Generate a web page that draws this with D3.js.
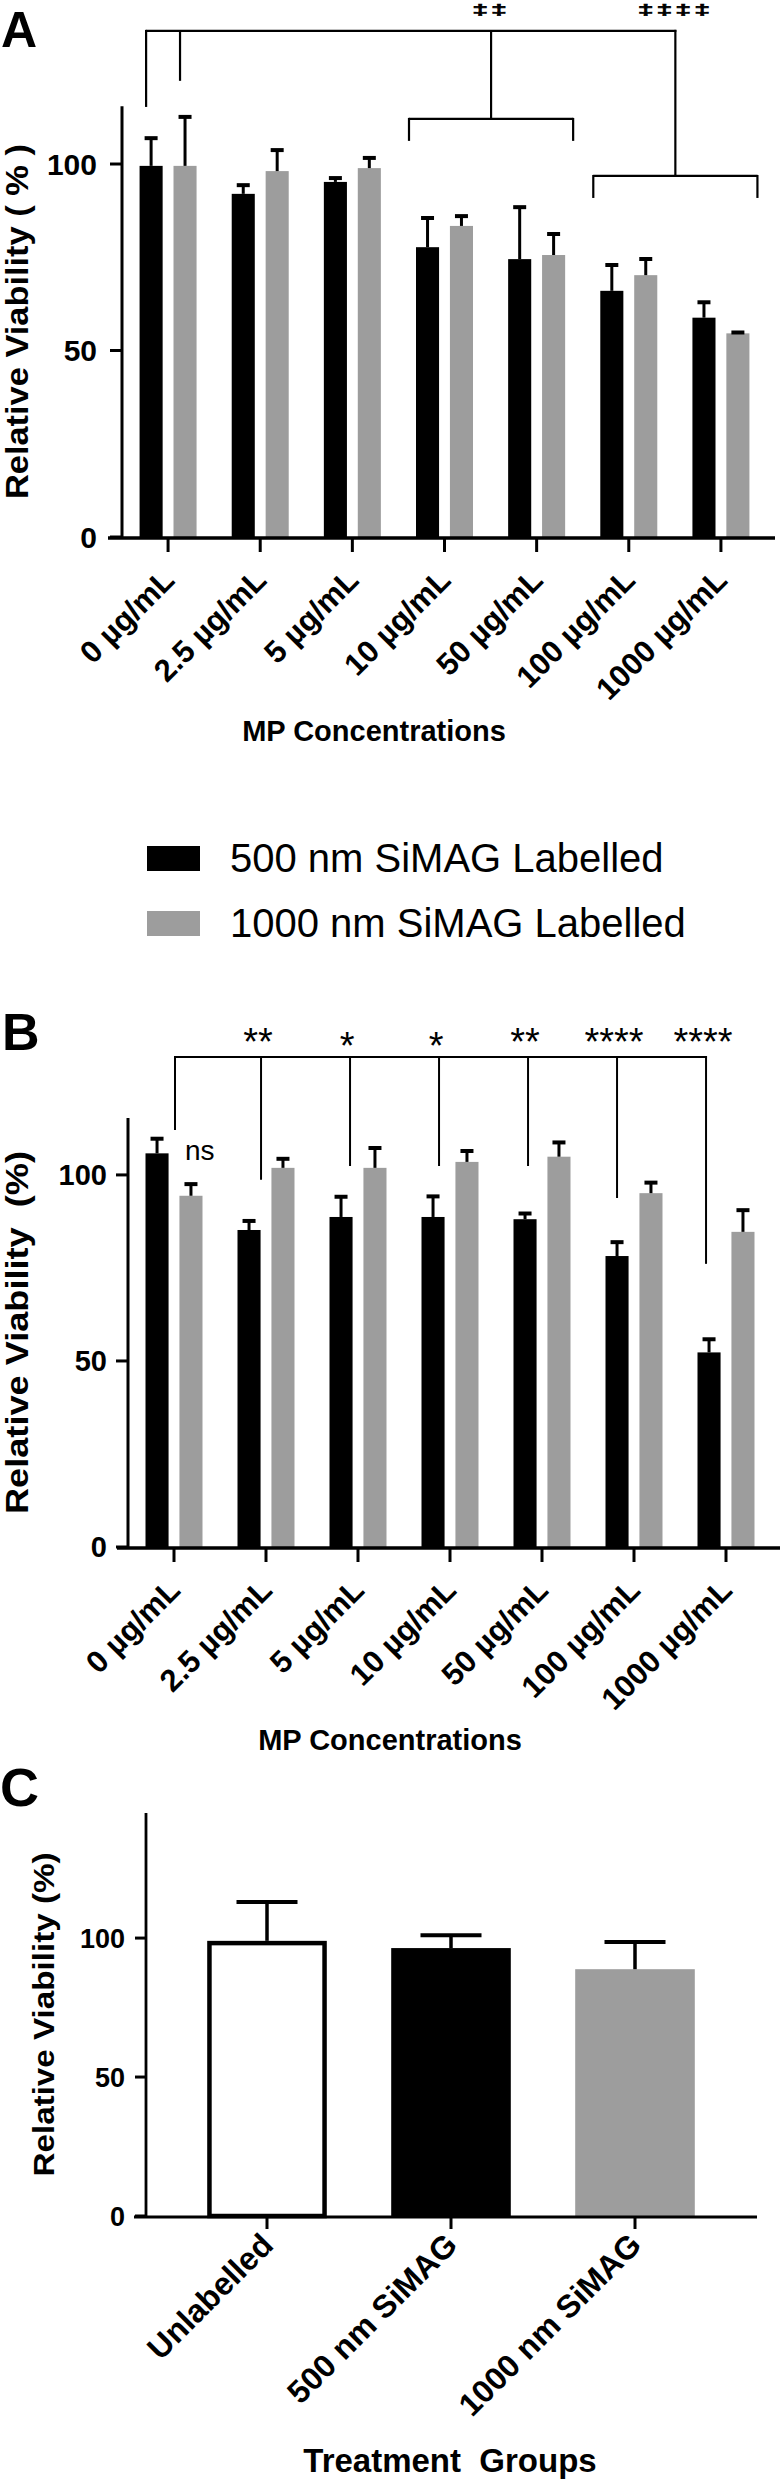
<!DOCTYPE html>
<html><head><meta charset="utf-8">
<script src="https://cdn.jsdelivr.net/npm/d3@7"></script>
<style>body{margin:0;background:#fff}svg{display:block}text{white-space:pre}</style>
</head><body>
<svg id="chart" width="782" height="2481"></svg>
<script>
// ---------- data ----------
const concentrations = ["0 µg/mL","2.5 µg/mL","5 µg/mL","10 µg/mL","50 µg/mL","100 µg/mL","1000 µg/mL"];
const seriesNames = ["500 nm SiMAG Labelled","1000 nm SiMAG Labelled"];
const seriesColors = ["#000000","#9d9d9d"];
const yTicks = [0, 50, 100];

const panelA500      = [99.5, 92.0, 95.2, 77.7, 74.5, 66.0, 58.8];
const panelA500Err   = [7.7, 2.6, 1.3, 8.1, 14.2, 7.2, 4.4];
const panelA1000     = [99.5, 98.1, 98.9, 83.4, 75.6, 70.2, 54.6];
const panelA1000Err  = [13.4, 5.9, 3.0, 2.9, 5.9, 4.6, 0.5];

const panelB500      = [105.8, 85.2, 88.7, 88.7, 88.1, 78.2, 52.3];
const panelB500Err   = [4.2, 2.7, 5.7, 5.8, 1.8, 4.0, 3.8];
const panelB1000     = [94.4, 101.9, 101.9, 103.5, 104.9, 95.1, 84.7];
const panelB1000Err  = [3.4, 2.7, 5.6, 3.2, 4.1, 3.1, 6.1];

const treatmentGroups = ["Unlabelled","500 nm SiMAG","1000 nm SiMAG"];
const panelC     = [99, 96.4, 88.8];
const panelCErr  = [14, 4.6, 9.8];
const panelCFill = ["#ffffff","#000000","#9d9d9d"];

// significance annotations
const starsA = ["‡‡","‡‡‡‡"];
const starsB = ["**","*","*","**","****","****"];
const bracketBEnds = [112.1, 98.7, 102.4, 102.4, 102.4, 93.8, 76.1];

// ---------- helpers ----------
const svg = d3.select("#chart");
const FONT = "'Liberation Sans', Arial, sans-serif";
const NARROW = "'Liberation Sans Narrow', 'Liberation Sans', Arial, sans-serif";

function line(g, x1, y1, x2, y2, w) {
  g.append("line").attr("x1", x1).attr("y1", y1).attr("x2", x2).attr("y2", y2)
    .attr("stroke", "#000").attr("stroke-width", w).attr("stroke-linecap", "butt");
}

function yAxis(g, y, xPos, tickLen, lblEnd, fontFam, fontSize, w) {
  line(g, xPos, y.range()[1], xPos, y.range()[0] + 1, w);
  yTicks.forEach(t => {
    line(g, xPos - tickLen, y(t), xPos, y(t), 3);
    g.append("text").attr("x", lblEnd).attr("y", y(t)).attr("dy", "0.36em")
      .attr("text-anchor", "end").attr("font-family", fontFam).attr("font-weight", "bold")
      .attr("font-size", fontSize).text(t);
  });
}

function yLabel(g, txt, x, cy, size, len) {
  g.append("text").attr("transform", `translate(${x},${cy}) rotate(-90)`)
    .attr("text-anchor", "middle").attr("font-family", FONT).attr("font-weight", "bold")
    .attr("font-size", size).attr("textLength", len).attr("lengthAdjust", "spacingAndGlyphs")
    .text(txt);
}

function groupedPanel(cfg) {
  const g = svg.append("g");
  const x = d3.scaleBand().domain(concentrations).range(cfg.xRange).padding(0);
  const xs = d3.scaleBand().domain(seriesNames).range([-28.5, 28.5]).paddingInner(0.32);
  const y = d3.scaleLinear().domain([0, cfg.yMax]).range([cfg.y0, cfg.yTop]);
  const series = [cfg.s1, cfg.s2], errs = [cfg.e1, cfg.e2];
  series.forEach((vals, si) => {
    const name = seriesNames[si];
    g.selectAll(null).data(vals).enter().append("rect")
      .attr("x", (d, i) => x(concentrations[i]) + x.bandwidth() / 2 + xs(name))
      .attr("width", xs.bandwidth())
      .attr("y", d => y(d)).attr("height", d => y(0) - y(d))
      .attr("fill", seriesColors[si]);
    vals.forEach((v, i) => {
      const cx = x(concentrations[i]) + x.bandwidth() / 2 + xs(name) + xs.bandwidth() / 2;
      const top = y(v + errs[si][i]);
      line(g, cx, y(v), cx, top, 3);
      line(g, cx - 6.5, top + 1, cx + 6.5, top + 1, 4);
    });
  });
  // axes
  yAxis(g, y, cfg.xRange[0], 12, cfg.yLblEnd, cfg.yFont, cfg.yFontSize, 3);
  line(g, cfg.xLine[0], cfg.y0 + 1, cfg.xLine[1], cfg.y0 + 1, 3.5);
  concentrations.forEach(c => {
    const cx = x(c) + x.bandwidth() / 2;
    line(g, cx, cfg.y0 + 2, cx, cfg.y0 + 15, 3);
    g.append("text").attr("transform", `translate(${cx + 8},${cfg.y0 + 45}) rotate(-45)`)
      .attr("text-anchor", "end").attr("font-family", FONT).attr("font-weight", "bold")
      .attr("font-size", 31).text(c);
  });
  return {g, x, xs, y};
}

// ---------- Panel A ----------
const A = groupedPanel({xRange: [122, 767], y0: 537, yTop: 106.2, yMax: 115.5,
  s1: panelA500, s2: panelA1000, e1: panelA500Err, e2: panelA1000Err,
  yLblEnd: 97, yFont: NARROW, yFontSize: 30, xLine: [108, 775]});
{
  const {g, x, xs, y} = A;
  const bc = (i, s) => x(concentrations[i]) + x.bandwidth() / 2 + xs(seriesNames[s]) + xs.bandwidth() / 2;
  const left = i => x(concentrations[i]) + x.bandwidth() / 2 + xs(seriesNames[0]) - 7;
  const right = i => x(concentrations[i]) + x.bandwidth() / 2 + xs(seriesNames[1]) + xs.bandwidth() + 8;
  const topY = y(135.7);
  const d1 = bc(0, 0) - 5, d2 = bc(0, 1) - 5;
  const b1 = [left(3), right(4)], b2 = [left(5), right(6)];
  const m1 = (b1[0] + b1[1]) / 2, m2 = (b2[0] + b2[1]) / 2;
  line(g, d1, topY, m2 + 1, topY, 2.2);
  line(g, d1, topY - 1, d1, y(115.3), 2.2);
  line(g, d2, topY, d2, y(122.3), 2.2);
  line(g, m1, topY, m1, y(112.1), 2.2);
  line(g, b1[0], y(112.1), b1[1], y(112.1), 2.2);
  line(g, b1[0], y(112.1) - 1, b1[0], y(106.2), 2.2);
  line(g, b1[1], y(112.1) - 1, b1[1], y(106.2), 2.2);
  line(g, m2, topY - 1, m2, y(96.8), 2.2);
  line(g, b2[0], y(96.8), b2[1], y(96.8), 2.2);
  line(g, b2[0], y(96.8) - 1, b2[0], y(90.9), 2.2);
  line(g, b2[1], y(96.8) - 1, b2[1], y(90.9), 2.2);
  [m1, m2].forEach((m, k) => {
    g.append("text").attr("transform", `translate(${m},15) scale(1.5,0.8)`)
      .attr("text-anchor", "middle").attr("font-family", FONT).attr("font-weight", "bold")
      .attr("font-size", 19).attr("letter-spacing", 2)
      .attr("stroke", "#000").attr("stroke-width", 0.7).text(starsA[k]);
  });
  yLabel(g, "Relative Viability ( % )", 28, (y(0) + y.range()[1]) / 2, 31, 355);
  g.append("text").attr("x", 374).attr("y", 741).attr("text-anchor", "middle")
    .attr("font-family", FONT).attr("font-weight", "bold").attr("font-size", 29).text("MP Concentrations");
  g.append("text").attr("x", 1).attr("y", 47).attr("font-family", FONT).attr("font-weight", "bold")
    .attr("font-size", 50).text("A");
}

// ---------- Legend ----------
{
  const g = svg.append("g");
  seriesNames.forEach((n, i) => {
    g.append("rect").attr("x", 147).attr("y", 846 + i * 65).attr("width", 53).attr("height", 25)
      .attr("fill", seriesColors[i]);
    g.append("text").attr("x", 230).attr("y", 872 + i * 65).attr("font-family", FONT)
      .attr("font-size", 40).text(n);
  });
}

// ---------- Panel B ----------
const B = groupedPanel({xRange: [128, 772], y0: 1547, yTop: 1118, yMax: 115.3,
  s1: panelB500, s2: panelB1000, e1: panelB500Err, e2: panelB1000Err,
  yLblEnd: 107, yFont: FONT, yFontSize: 29, xLine: [117, 780]});
{
  const {g, x, xs, y} = B;
  const bc = i => x(concentrations[i]) + x.bandwidth() / 2 + xs(seriesNames[0]) + xs.bandwidth() / 2;
  const drops = concentrations.map((c, i) => i === 0 ? x(c) + x.bandwidth() / 2 + 1 : bc(i) + 12 - 3 * (i - 1));
  const topY = y(131.7);
  line(g, drops[0], topY, drops[6] + 1, topY, 2);
  drops.forEach((dx, i) => line(g, dx, topY - 1, dx, y(bracketBEnds[i]), 2));
  starsB.forEach((s, k) => {
    g.append("text").attr("x", drops[k + 1] - 3).attr("y", topY - 2 + (s === "*" ? 4 : 0))
      .attr("text-anchor", "middle").attr("font-family", FONT).attr("font-size", 38).text(s);
  });
  g.append("text").attr("x", 185).attr("y", 1160).attr("font-family", FONT).attr("font-size", 28).text("ns");
  yLabel(g, "Relative Viability  (%)", 28, (y(0) + y.range()[1]) / 2, 31, 363);
  g.append("text").attr("x", 390).attr("y", 1750).attr("text-anchor", "middle")
    .attr("font-family", FONT).attr("font-weight", "bold").attr("font-size", 29).text("MP Concentrations");
  g.append("text").attr("x", 2).attr("y", 1050).attr("font-family", FONT).attr("font-weight", "bold")
    .attr("font-size", 52).text("B");
}

// ---------- Panel C ----------
{
  const g = svg.append("g");
  const x = d3.scaleBand().domain(treatmentGroups).range([175, 727]).paddingInner(0.35).paddingOuter(0.175);
  const y = d3.scaleLinear().domain([0, 145]).range([2216, 1813]);
  panelC.forEach((v, i) => {
    const x0 = x(treatmentGroups[i]), bw = x.bandwidth();
    const outlined = panelCFill[i] === "#ffffff";
    const sw = outlined ? 4.5 : 0;
    g.append("rect").attr("x", x0 + sw / 2).attr("y", y(v) + sw / 2)
      .attr("width", bw - sw).attr("height", y(0) - y(v) - sw / 2)
      .attr("fill", panelCFill[i]).attr("stroke", outlined ? "#000" : "none").attr("stroke-width", sw);
    const cx = x0 + bw / 2, top = y(v + panelCErr[i]);
    line(g, cx, y(v), cx, top, 3.5);
    line(g, cx - 30.5, top, cx + 30.5, top, 4);
  });
  yAxis(g, y, 146, 11, 125, FONT, 27, 2.8);
  line(g, 134, y(0) + 1, 757, y(0) + 1, 3);
  treatmentGroups.forEach(c => {
    const cx = x(c) + x.bandwidth() / 2;
    line(g, cx, y(0) + 2, cx, y(0) + 13, 3);
    g.append("text").attr("transform", `translate(${cx + 8},${y(0) + 31}) rotate(-45)`)
      .attr("text-anchor", "end").attr("font-family", FONT).attr("font-weight", "bold")
      .attr("font-size", 32).text(c);
  });
  yLabel(g, "Relative Viability (%)", 54, (y(0) + y.range()[1]) / 2, 29, 324);
  g.append("text").attr("x", 450).attr("y", 2472).attr("text-anchor", "middle")
    .attr("font-family", FONT).attr("font-weight", "bold").attr("font-size", 33).text("Treatment  Groups");
  g.append("text").attr("x", 0).attr("y", 1806).attr("font-family", FONT).attr("font-weight", "bold")
    .attr("font-size", 54).text("C");
}
</script>
</body></html>
